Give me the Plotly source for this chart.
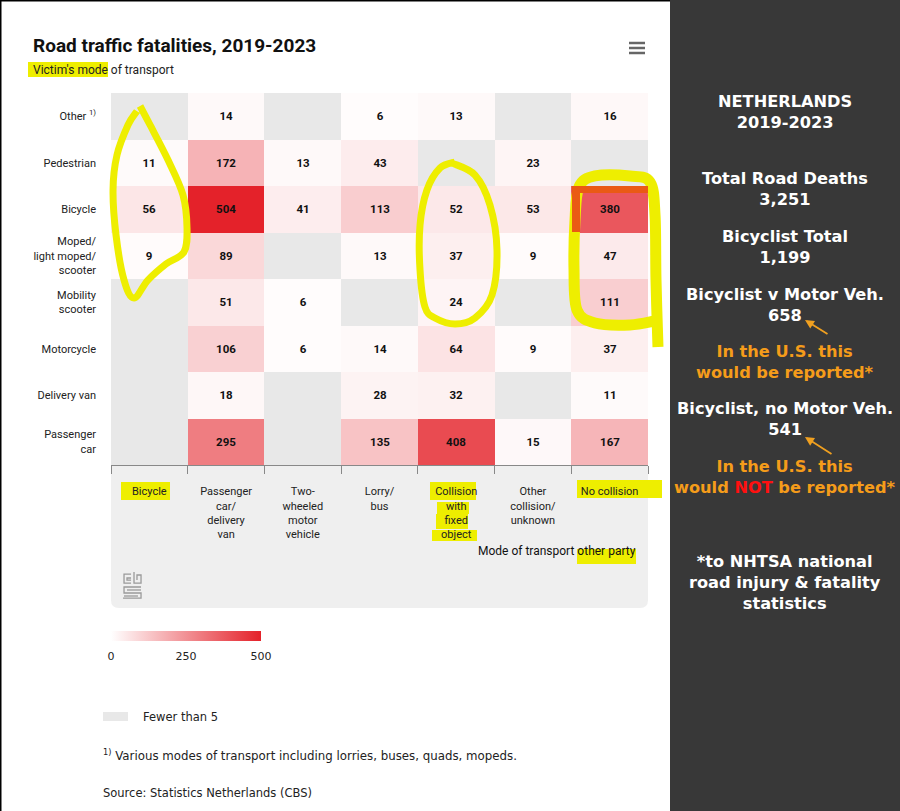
import plotly.graph_objects as go
import numpy as np

# victim's mode of transport (rows) and other party (columns)
victim_modes = ["Other <sup>1)</sup>", "Pedestrian", "Bicycle",
                "Moped/<br>light moped/<br>scooter", "Mobility<br>scooter",
                "Motorcycle", "Delivery van", "Passenger<br>car"]
other_party = ["Bicycle", "Passenger<br>car/<br>delivery<br>van",
               "Two-<br>wheeled<br>motor<br>vehicle", "Lorry/<br>bus",
               "Collision<br>with<br>fixed<br>object",
               "Other<br>collision/<br>unknown", "No collision"]

# None = fewer than 5
other_row = [None, 14, None, 6, 13, None, 16]
pedestrian_row = [11, 172, 13, 43, None, 23, None]
bicycle_row = [56, 504, 41, 113, 52, 53, 380]
moped_row = [9, 89, None, 13, 37, 9, 47]
mobility_row = [None, 51, 6, None, 24, None, 111]
motorcycle_row = [None, 106, 6, 14, 64, 9, 37]
van_row = [None, 18, None, 28, 32, None, 11]
car_row = [None, 295, None, 135, 408, 15, 167]

colorbar_ticks = [0, 250, 500]

rows = [other_row, pedestrian_row, bicycle_row, moped_row,
        mobility_row, motorcycle_row, van_row, car_row]
z = np.array([[np.nan if v is None else v for v in r] for r in rows], dtype=float)
txt = [["" if v is None else str(v) for v in r] for r in rows]

W, H = 900, 811


def px(x, y):
    return x / W, 1 - y / H


def smooth_path(pts, closed=False):
    p = [px(*q) for q in pts]
    n = len(p)
    s = f"M{p[0][0]:.4f},{p[0][1]:.4f}"
    segs = n if closed else n - 1
    for i in range(segs):
        p0 = p[(i - 1) % n] if (closed or i > 0) else p[i]
        p1 = p[i % n]
        p2 = p[(i + 1) % n]
        p3 = p[(i + 2) % n] if (closed or i + 2 < n) else p2
        c1 = (p1[0] + (p2[0] - p0[0]) / 6, p1[1] + (p2[1] - p0[1]) / 6)
        c2 = (p2[0] - (p3[0] - p1[0]) / 6, p2[1] - (p3[1] - p1[1]) / 6)
        s += f" C{c1[0]:.4f},{c1[1]:.4f} {c2[0]:.4f},{c2[1]:.4f} {p2[0]:.4f},{p2[1]:.4f}"
    if closed:
        s += " Z"
    return s


def line_path(pts):
    p = [px(*q) for q in pts]
    return "M" + " L".join(f"{a:.4f},{b:.4f}" for a, b in p)


def box(x0, y0, x1, y1, color, layer="below"):
    a, b = px(x0, y1)
    c, d = px(x1, y0)
    return dict(type="rect", xref="paper", yref="paper", x0=a, y0=b, x1=c, y1=d,
                fillcolor=color, line_width=0, layer=layer)


fig = go.Figure()

fig.add_trace(go.Heatmap(
    z=z, x=other_party, y=victim_modes,
    text=txt, texttemplate="%{text}",
    textfont=dict(family="Roboto", size=11.5, color="#111", weight="bold"),
    colorscale=[[0, "#ffffff"], [1, "#e4222a"]],
    zmin=0, zmax=500,
    hoverongaps=False,
    colorbar=dict(
        orientation="h", x=111 / W, xanchor="left",
        y=1 - 631 / H, yanchor="top",
        len=150, lenmode="pixels", thickness=10,
        xpad=0, ypad=0, outlinewidth=0,
        tickvals=colorbar_ticks, ticks="outside", ticklen=6,
        tickcolor="rgba(0,0,0,0)",
        tickfont=dict(family="DejaVu Sans", size=11, color="#222"),
    ),
))

YEL = "#eeee00"
shapes = []
# right dark panel
shapes.append(dict(type="rect", xref="paper", yref="paper", x0=670 / W, x1=1, y0=0, y1=1,
                   fillcolor="#383838", line_width=0, layer="below"))
# black frame top/left
shapes.append(dict(type="line", xref="paper", yref="paper", x0=0, x1=670 / W, y0=1, y1=1,
                   line=dict(color="#000", width=3)))
shapes.append(dict(type="line", xref="paper", yref="paper", x0=0, x1=0, y0=0, y1=1,
                   line=dict(color="#000", width=3)))
# grey panel under the x labels, rounded bottom corners
r = 8
shapes.append(dict(type="path", layer="below", fillcolor="#efefef", line_width=0,
                   xref="paper", yref="paper",
                   path=line_path([(111, 466), (648, 466), (648, 608 - r)])
                   + " Q{:.4f},{:.4f} {:.4f},{:.4f}".format(*px(648, 608), *px(648 - r, 608))
                   + " L{:.4f},{:.4f}".format(*px(111 + r, 608))
                   + " Q{:.4f},{:.4f} {:.4f},{:.4f}".format(*px(111, 608), *px(111, 608 - r))
                   + " Z"))
# text highlights
for b in [(28, 62, 108, 77), (121, 482, 170, 500), (430, 482, 476, 500),
          (437, 502, 469, 514), (436, 514, 468, 529), (432, 530, 477, 541),
          (577, 480, 662, 498), (577, 549, 636, 564)]:
    shapes.append(box(*b, YEL))
# hand-drawn loops
loops = [
    ([(140, 106), (150, 125), (168, 160), (183, 195), (187, 228), (184, 252), (166, 264),
      (148, 280), (134, 298), (124, 280), (116, 235), (113, 190), (117, 155), (128, 125),
      (137, 111)], 7),
    ([(452, 163), (475, 175), (490, 205), (497, 250), (492, 295), (475, 318), (455, 324),
      (435, 318), (425, 307), (420, 270), (420, 225), (427, 190), (440, 168), (455, 162)], 7),
    ([(658, 347), (656, 280), (655, 215), (650, 182), (630, 176), (595, 176), (579, 187),
      (575, 220), (574, 270), (577, 310), (595, 323), (630, 325), (655, 321)], 11),
]
for pts, w in loops:
    shapes.append(dict(type="path", xref="paper", yref="paper", path=smooth_path(pts),
                       line=dict(color=YEL, width=w), layer="above"))
# highlighter over the red 380 cell turns orange
shapes.append(box(572, 186, 648, 193, "#ea5a14", layer="above"))
shapes.append(box(572, 186, 580, 232, "#ea5a14", layer="above"))
# colorbar divider at 250
shapes.append(dict(type="line", xref="paper", yref="paper", x0=186 / W, x1=186 / W,
                   y0=1 - 641 / H, y1=1 - 631 / H, line=dict(color="white", width=1)))
# "fewer than 5" legend swatch
shapes.append(box(103, 712, 128, 721, "#e8e8e8", layer="above"))
# menu icon
for yy in [43, 48, 53]:
    shapes.append(dict(type="line", xref="paper", yref="paper", x0=629 / W, x1=645 / W,
                       y0=1 - yy / H, y1=1 - yy / H, line=dict(color="#666", width=2.5)))
# cbs logo
for pts in [[(131, 574), (124, 574), (124, 583), (131, 583)],
            [(131, 578), (127, 578), (127, 580), (131, 580)],
            [(134, 572), (134, 583), (141, 583), (141, 575), (137, 575), (137, 580)],
            [(141, 587), (124, 587), (124, 593), (141, 593), (141, 598), (123, 598)],
            [(141, 590), (127, 590)], [(124, 596), (138, 596)]]:
    shapes.append(dict(type="path", xref="paper", yref="paper", path=line_path(pts),
                       line=dict(color="#9a9a9a", width=1.3)))

ann = []


def note(x, y, text, size=11, color="#222", family="Roboto", xanchor="left", align="left"):
    ann.append(dict(xref="paper", yref="paper", x=x / W, y=1 - y / H, text=text,
                    showarrow=False, xanchor=xanchor, yanchor="middle", align=align,
                    font=dict(family=family, size=size, color=color)))


note(31, 45, "<b>Road traffic fatalities, 2019-2023</b>", size=19, color="#111")
note(31, 70, "Victim's mode of transport", size=12)
note(638, 551, "Mode of transport other party", size=12, color="#111", xanchor="right")
note(141, 717, "Fewer than 5", size=11.5, family="DejaVu Sans")
note(101, 755, "<sup>1)</sup> Various modes of transport including lorries, buses, quads, mopeds.",
     size=11.8, family="DejaVu Sans")
note(101, 793, "Source: Statistics Netherlands (CBS)", size=11.5, family="DejaVu Sans")

WHITE, ORANGE = "#ffffff", "#f59c1a"
panel = [
    (112, "NETHERLANDS<br>2019-2023", WHITE),
    (189, "Total Road Deaths<br>3,251", WHITE),
    (247, "Bicyclist Total<br>1,199", WHITE),
    (305, "Bicyclist v Motor Veh.<br>658", WHITE),
    (362, "In the U.S. this<br>would be reported*", ORANGE),
    (419, "Bicyclist, no Motor Veh.<br>541", WHITE),
    (477, "In the U.S. this<br>would <span style='color:#ff1010'>NOT</span> be reported*", ORANGE),
    (582, "*to NHTSA national<br>road injury &amp; fatality<br>statistics", WHITE),
]
for y, t, c in panel:
    note(785, y, "<b>" + t + "</b>", size=16.2, color=c, family="DejaVu Sans",
         xanchor="center", align="center")

for (hx, hy), (tx, ty) in [((805, 320), (829, 335)), ((805, 437), (833, 455))]:
    ann.append(dict(xref="paper", yref="paper", x=hx / W, y=1 - hy / H,
                    axref="pixel", ayref="pixel", ax=tx - hx, ay=ty - hy, text="",
                    showarrow=True, arrowhead=2, arrowsize=1, arrowwidth=1.8,
                    arrowcolor="#f0a020"))

fig.update_layout(
    width=W, height=H,
    margin=dict(l=0, r=0, t=0, b=0),
    paper_bgcolor="white",
    plot_bgcolor="#e8e8e8",
    font=dict(family="Roboto", size=11, color="#222"),
    shapes=shapes,
    annotations=ann,
    showlegend=False,
)
fig.update_xaxes(domain=[111 / W, 648 / W], side="bottom", tickson="boundaries",
                 ticks="outside", ticklen=8, tickcolor="#888", showline=True,
                 linecolor="#888", linewidth=1, showgrid=False, zeroline=False,
                 ticklabelstandoff=16, tickfont=dict(size=11, color="#222"),
                 fixedrange=True)
fig.update_yaxes(domain=[1 - 465 / H, 1 - 93 / H], autorange="reversed", ticks="",
                 showgrid=False, zeroline=False, ticklabelstandoff=14,
                 tickfont=dict(size=11, color="#222"), fixedrange=True)

fig.write_html("out.html", config={"displayModeBar": False},
               post_script="document.body.style.margin='0';")
